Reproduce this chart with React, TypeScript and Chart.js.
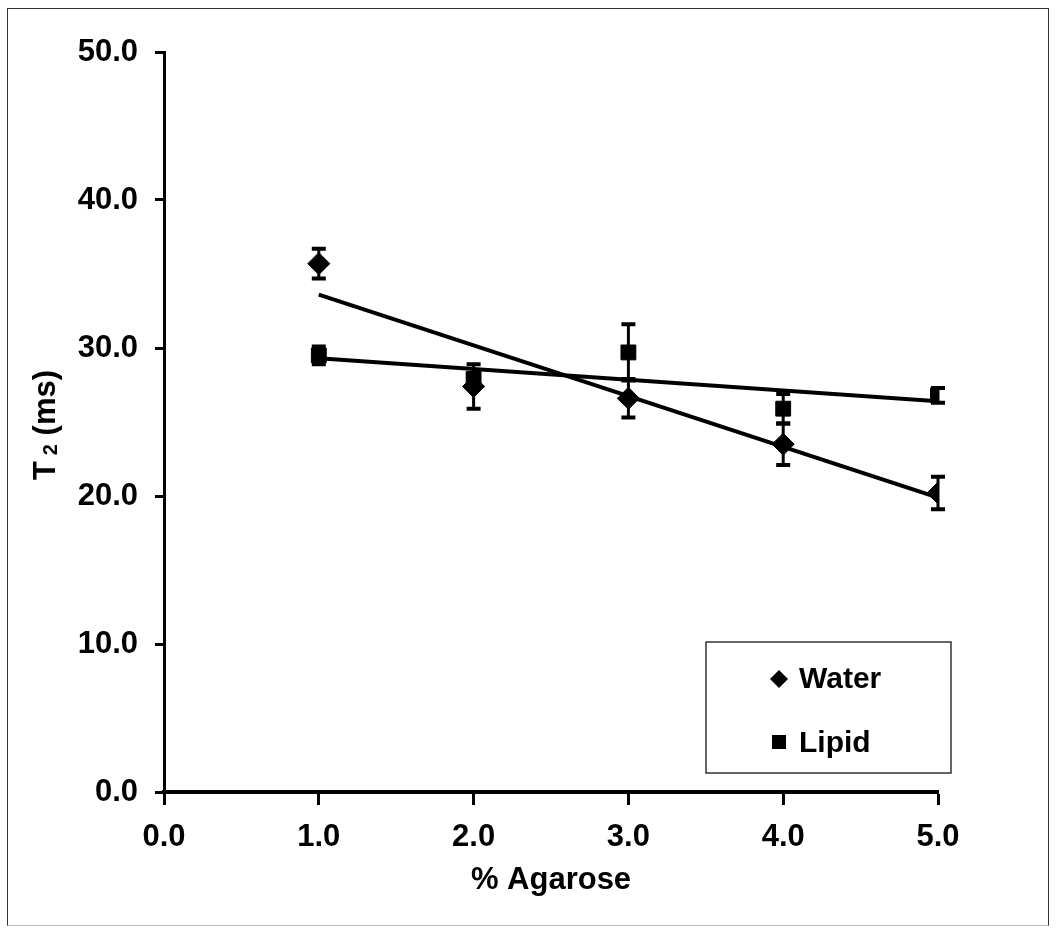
import React, { useEffect, useRef } from "react";
import { Chart, registerables } from "chart.js";

Chart.register(...registerables);

const agarose = [1, 2, 3, 4, 5];
const waterT2 = [35.7, 27.4, 26.6, 23.5, 20.2];
const waterErr = [1.0, 1.5, 1.3, 1.4, 1.1];
const lipidT2 = [29.5, 27.9, 29.7, 25.9, 26.8];
const lipidErr = [0.6, 0.4, 1.9, 1.0, 0.5];
const trendX = [1, 5];
const waterTrend = [33.6, 19.9];
const lipidTrend = [29.3, 26.4];
const seriesNames = ["Water", "Lipid"];
const xTitle = "% Agarose";

const FONT = "'Liberation Sans', Arial, sans-serif";

const errorBarPlugin = {
  id: "errorBars",
  afterDatasetsDraw(chart: any) {
    const ctx = chart.ctx;
    const xs = chart.scales.x;
    const ys = chart.scales.y;
    const sets = [
      { v: waterT2, e: waterErr },
      { v: lipidT2, e: lipidErr },
    ];
    ctx.save();
    ctx.strokeStyle = "#000";
    sets.forEach((s) => {
      agarose.forEach((xv, i) => {
        const px = xs.getPixelForValue(xv);
        const top = ys.getPixelForValue(s.v[i] + s.e[i]);
        const bot = ys.getPixelForValue(s.v[i] - s.e[i]);
        ctx.lineWidth = 3;
        ctx.beginPath();
        ctx.moveTo(px, top);
        ctx.lineTo(px, bot);
        ctx.stroke();
        ctx.lineWidth = 4;
        ctx.beginPath();
        ctx.moveTo(px - 7, top);
        ctx.lineTo(px + 7, top);
        ctx.moveTo(px - 7, bot);
        ctx.lineTo(px + 7, bot);
        ctx.stroke();
      });
    });
    ctx.restore();
  },
};

const extrasPlugin = {
  id: "extras",
  afterDraw(chart: any) {
    const ctx = chart.ctx;
    ctx.save();
    ctx.fillStyle = "#000";
    // Y axis title with subscript
    ctx.translate(44, 425);
    ctx.rotate(-Math.PI / 2);
    const big = `bold 31px ${FONT}`;
    const small = `bold 20px ${FONT}`;
    ctx.font = big;
    const wT = ctx.measureText("T").width;
    const wRest = ctx.measureText(" (ms)").width;
    ctx.font = small;
    const w2 = ctx.measureText("2").width;
    const gap = 6;
    const total = wT + gap + w2 + wRest;
    let x0 = -total / 2;
    ctx.textBaseline = "alphabetic";
    ctx.textAlign = "left";
    ctx.font = big;
    ctx.fillText("T", x0, 11);
    x0 += wT + gap;
    ctx.font = small;
    ctx.fillText("2", x0, 13);
    x0 += w2;
    ctx.font = big;
    ctx.fillText(" (ms)", x0, 11);
    ctx.restore();

    // Legend box
    ctx.save();
    ctx.strokeStyle = "#333";
    ctx.lineWidth = 1.5;
    ctx.strokeRect(706, 642, 245, 131);
    ctx.fillStyle = "#000";
    const dx = 779, dy = 679, r = 9;
    ctx.beginPath();
    ctx.moveTo(dx, dy - r);
    ctx.lineTo(dx + r, dy);
    ctx.lineTo(dx, dy + r);
    ctx.lineTo(dx - r, dy);
    ctx.closePath();
    ctx.fill();
    ctx.fillRect(772, 735, 14, 14);
    ctx.font = `bold 30px ${FONT}`;
    ctx.textAlign = "left";
    ctx.textBaseline = "alphabetic";
    ctx.fillText(seriesNames[0], 799, 688);
    ctx.fillText(seriesNames[1], 799, 752);
    ctx.restore();
  },
};

export default function App() {
  const ref = useRef<HTMLCanvasElement | null>(null);
  useEffect(() => {
    if (!ref.current) return;
    const chart = new Chart(ref.current, {
      type: "scatter",
      data: {
        datasets: [
          {
            label: seriesNames[0],
            data: agarose.map((x, i) => ({ x, y: waterT2[i] })),
            pointStyle: "rectRot",
            pointRadius: 11,
            backgroundColor: "#000",
            borderColor: "#000",
          },
          {
            label: seriesNames[1],
            data: agarose.map((x, i) => ({ x, y: lipidT2[i] })),
            pointStyle: "rect",
            pointRadius: 10.5,
            backgroundColor: "#000",
            borderColor: "#000",
          },
          {
            label: "Water trend",
            data: trendX.map((x, i) => ({ x, y: waterTrend[i] })),
            showLine: true,
            pointRadius: 0,
            borderColor: "#000",
            borderWidth: 4,
          },
          {
            label: "Lipid trend",
            data: trendX.map((x, i) => ({ x, y: lipidTrend[i] })),
            showLine: true,
            pointRadius: 0,
            borderColor: "#000",
            borderWidth: 4,
          },
        ],
      },
      options: {
        animation: false,
        responsive: false,
        maintainAspectRatio: false,
        layout: { padding: { left: 0, top: 52, right: 118, bottom: 0 } },
        plugins: {
          legend: { display: false },
          tooltip: { enabled: false },
        },
        scales: {
          x: {
            type: "linear",
            min: 0,
            max: 5,
            ticks: {
              stepSize: 1,
              color: "#000",
              padding: 14,
              font: { family: FONT, size: 31, weight: "bold" },
              callback: (v: any) => Number(v).toFixed(1),
            },
            grid: {
              drawOnChartArea: false,
              tickLength: 13,
              tickWidth: 3,
              tickColor: "#000",
            },
            border: { display: true, color: "#000", width: 4 },
            title: {
              display: true,
              text: xTitle,
              color: "#000",
              font: { family: FONT, size: 31, weight: "bold" },
              padding: { top: 14, bottom: 33 },
            },
            afterFit: (s: any) => {
              s.height = 140;
            },
          },
          y: {
            type: "linear",
            min: 0,
            max: 50,
            ticks: {
              stepSize: 10,
              color: "#000",
              padding: 17,
              font: { family: FONT, size: 31, weight: "bold" },
              callback: (v: any) => Number(v).toFixed(1),
            },
            grid: {
              drawOnChartArea: false,
              tickLength: 9,
              tickWidth: 3,
              tickColor: "#000",
            },
            border: { display: true, color: "#000", width: 3 },
            afterFit: (s: any) => {
              s.width = 164;
            },
          },
        },
      },
      plugins: [errorBarPlugin, extrasPlugin],
    } as any);
    return () => chart.destroy();
  }, []);

  return (
    <div style={{ position: "fixed", left: 0, top: 0, width: 1056, height: 932, background: "#fff" }}>
      <div
        style={{
          position: "absolute",
          left: 7,
          top: 8,
          width: 1042,
          height: 918,
          borderTop: "1.5px solid #333",
          borderLeft: "1.5px solid #333",
          borderRight: "1.5px solid #333",
          borderBottom: "1px solid #bbb",
          boxSizing: "border-box",
        }}
      />
      <canvas ref={ref} width={1056} height={932} style={{ position: "absolute", left: 0, top: 0 }} />
    </div>
  );
}
